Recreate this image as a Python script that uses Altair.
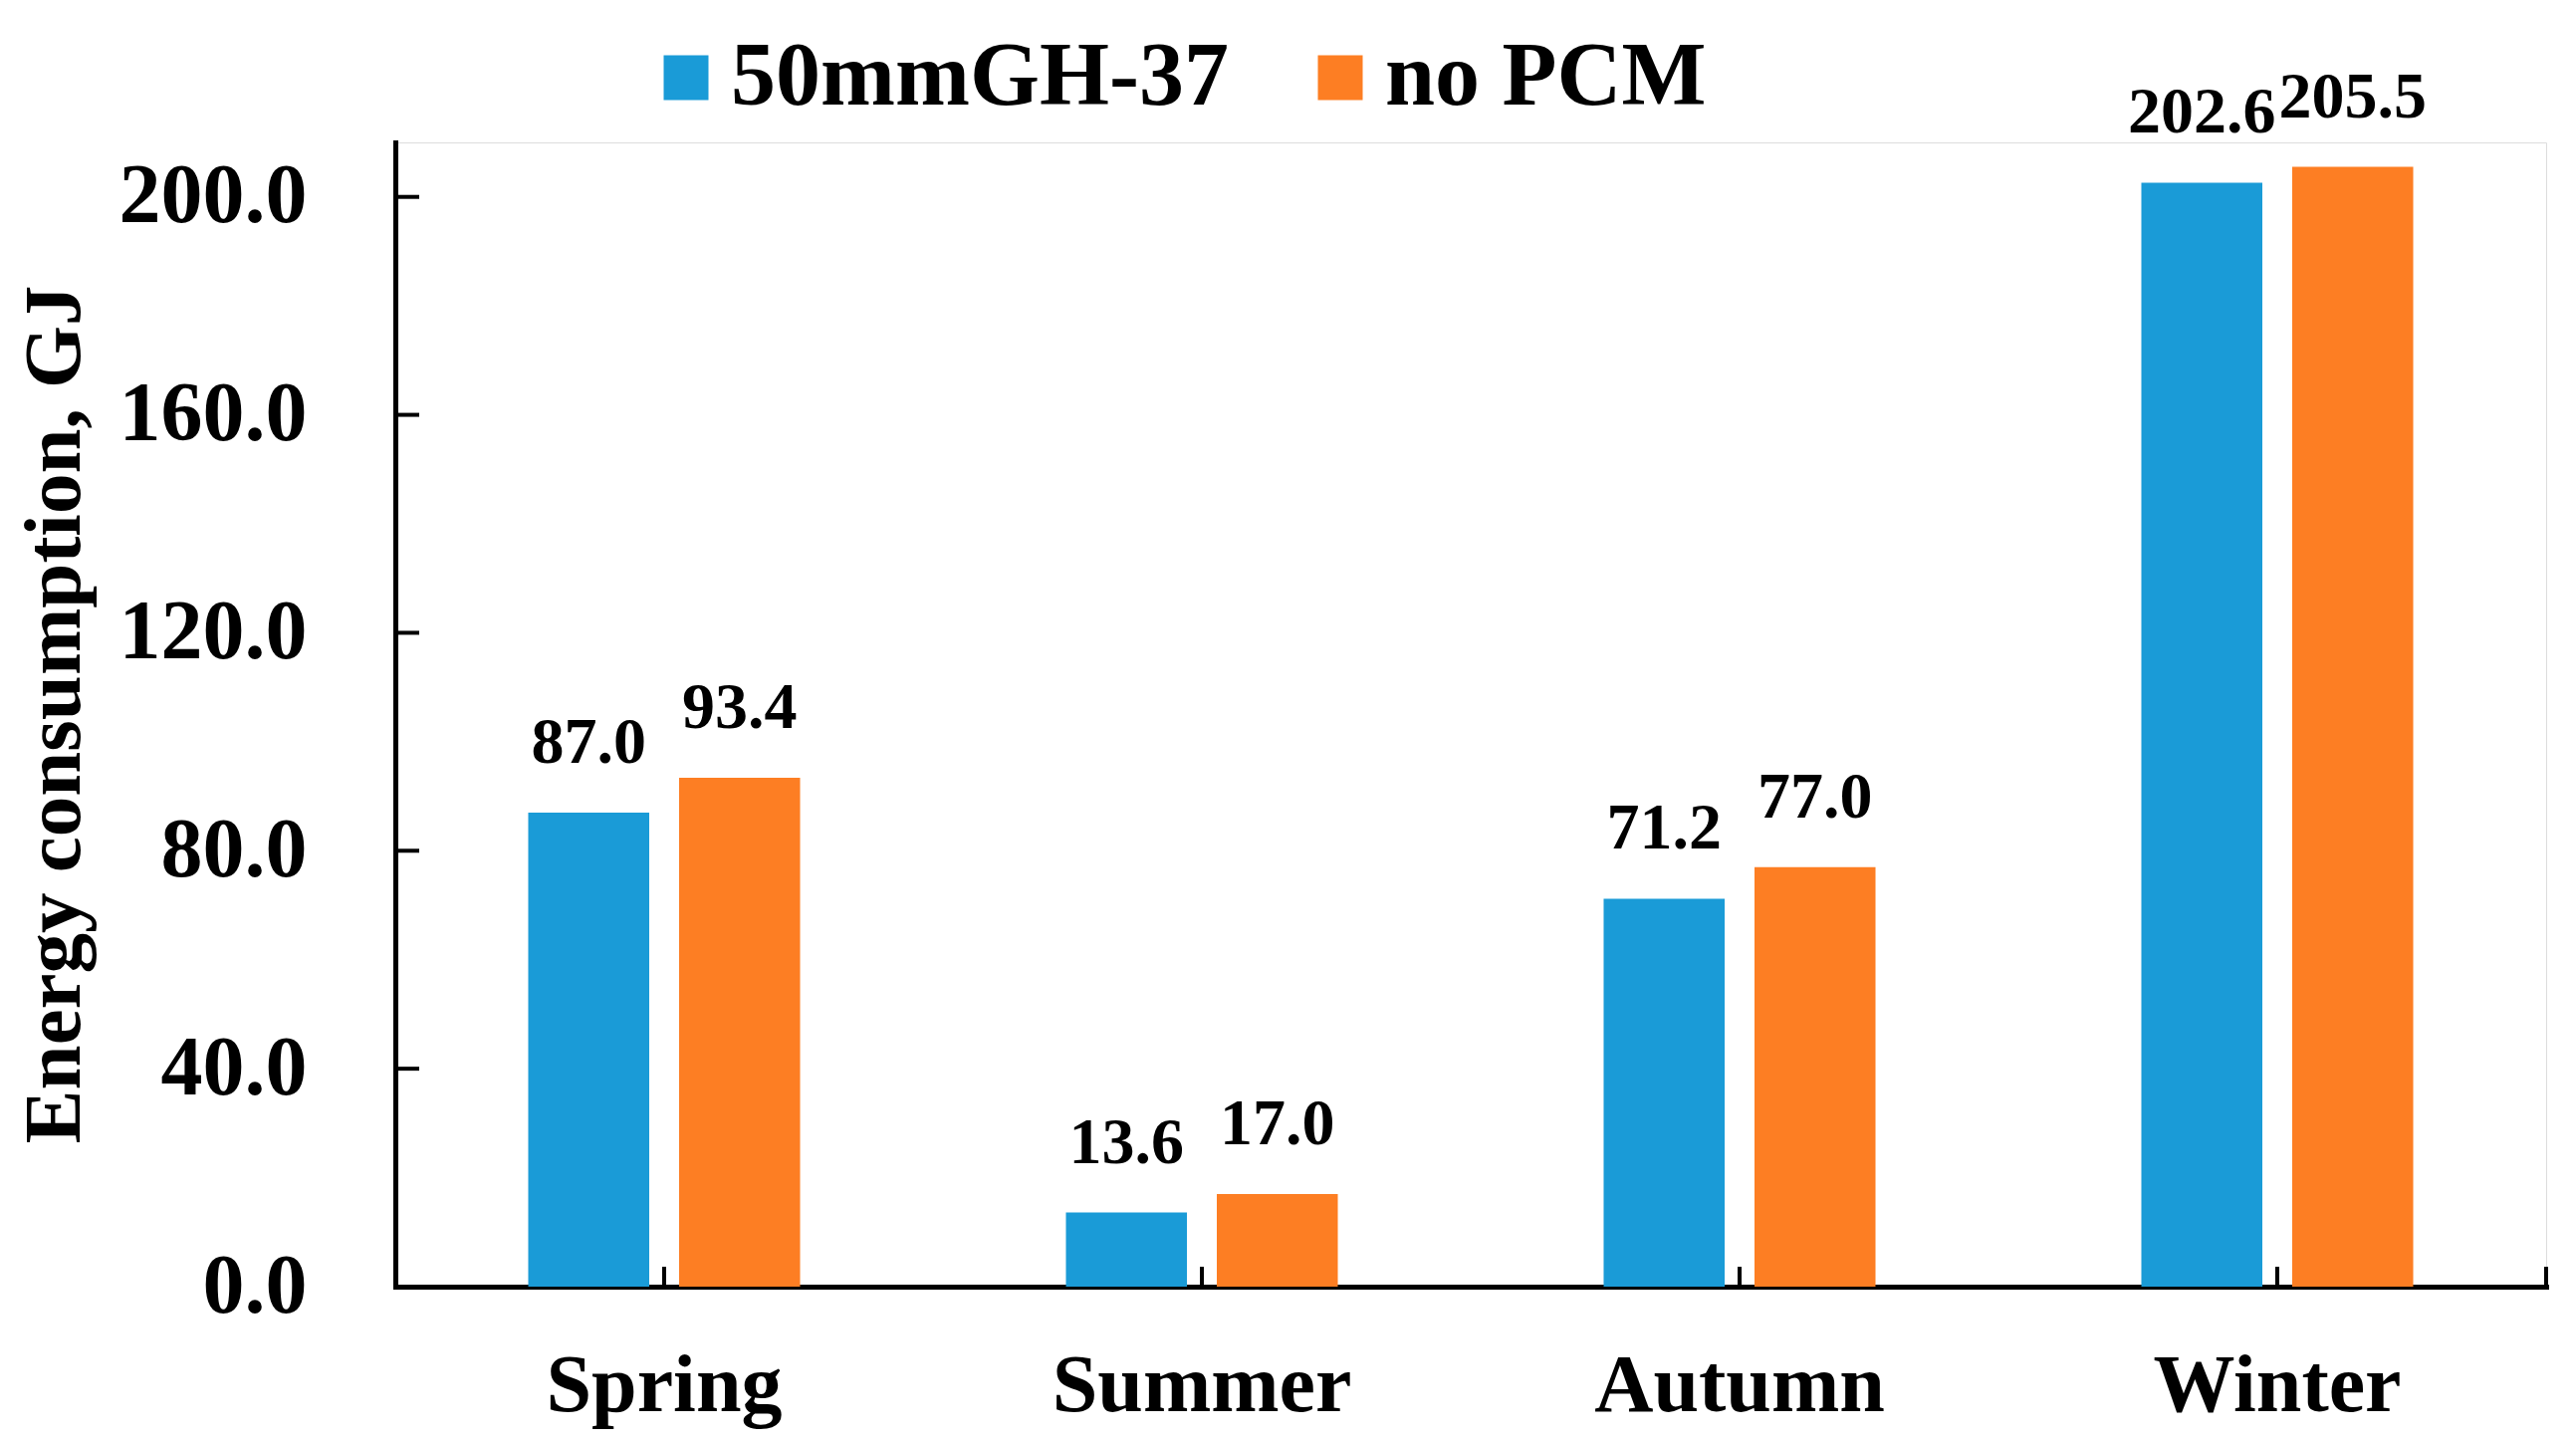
import altair as alt
import pandas as pd

seasons = ["Spring", "Summer", "Autumn", "Winter"]
series_names = ["50mmGH-37", "no PCM"]
gh37 = [87.0, 13.6, 71.2, 202.6]
no_pcm = [93.4, 17.0, 77.0, 205.5]
y_ticks = [0, 40, 80, 120, 160, 200]
colors = ["#1A9BD7", "#FD7E23"]

rows = []
for s, a, b in zip(seasons, gh37, no_pcm):
    rows.append({"season": s, "series": series_names[0], "value": a})
    rows.append({"season": s, "series": series_names[1], "value": b})
df = pd.DataFrame(rows)
tick_df = pd.DataFrame({"value": y_ticks})
season_df = pd.DataFrame({"season": seasons})

W, H = 2160, 1149
FONT = "Liberation Serif"

xscale = alt.Scale(domain=seasons, paddingInner=0, paddingOuter=0)
yscale = alt.Scale(domain=[0, 210], nice=False, zero=True)
offscale = alt.Scale(domain=series_names, paddingInner=0.198, paddingOuter=0.881)

x_axis = alt.Axis(title=None, labelFont=FONT, labelFontSize=82, labelFontWeight="bold",
                  labelColor="black", ticks=False, tickSize=0, labelPadding=59,
                  labelAngle=0, labelBaseline="top", labelAlign="center",
                  domainColor="black", domainWidth=5, domainCap="square", labelLimit=600)
y_axis = alt.Axis(title="Energy consumption, GJ", values=y_ticks, format=".1f",
                  labelFont=FONT, labelFontSize=84, labelFontWeight="bold", labelColor="black",
                  ticks=False, tickSize=0, labelPadding=89, grid=False,
                  domainColor="black", domainWidth=5, domainCap="square", labelLimit=600,
                  titleFont=FONT, titleFontSize=81, titleFontWeight="bold", titleColor="black",
                  titleAngle=-90, titleBaseline="alphabetic", titleAlign="center",
                  titleX=-318, titleY=574, titleLimit=2000)

base = alt.Chart(df)

bars = base.mark_bar().encode(
    x=alt.X("season:N", scale=xscale, axis=x_axis, sort=seasons),
    xOffset=alt.XOffset("series:N", scale=offscale, sort=series_names),
    y=alt.Y("value:Q", scale=yscale, axis=y_axis),
    color=alt.Color("series:N", scale=alt.Scale(domain=series_names, range=colors),
                    legend=alt.Legend(title=None, orient="none", direction="horizontal",
                                      legendX=247, legendY=-110, padding=0, offset=0,
                                      symbolType="square", symbolSize=2025,
                                      symbolStrokeWidth=0, labelFont=FONT,
                                      labelFontSize=90, labelFontWeight="bold",
                                      labelColor="black", labelOffset=0,
                                      columnPadding=67, labelLimit=2000)),
)

labels = base.mark_text(font=FONT, fontSize=66, fontWeight="bold", color="black",
                        baseline="alphabetic", dy=-50).encode(
    x=alt.X("season:N", scale=xscale, sort=seasons),
    xOffset=alt.XOffset("series:N", scale=offscale, sort=series_names),
    y=alt.Y("value:Q", scale=yscale),
    text=alt.Text("value:Q", format=".1f"),
)

yticks = alt.Chart(tick_df).mark_rule(color="black", strokeWidth=4).encode(
    y=alt.Y("value:Q", scale=yscale),
    x=alt.value(0),
    x2=alt.value(24),
)

xticks = alt.Chart(season_df).mark_rule(color="black", strokeWidth=4).encode(
    x=alt.X("season:N", scale=xscale, sort=seasons),
    y=alt.value(H),
    y2=alt.value(H - 20),
)

endtick = alt.Chart(pd.DataFrame({"e": [0]})).mark_rule(color="black", strokeWidth=4).encode(
    x=alt.value(W),
    y=alt.value(H),
    y2=alt.value(H - 20),
)

chart = alt.layer(bars, labels, yticks, xticks, endtick).properties(
    width=W, height=H,
    autosize=alt.AutoSizeParams(type="none"),
    padding={"left": 389, "top": 135, "right": 20, "bottom": 148},
).configure_view(strokeWidth=0).configure(background="white")

chart.save("out.html", embed_options={"renderer": "svg", "actions": False})
